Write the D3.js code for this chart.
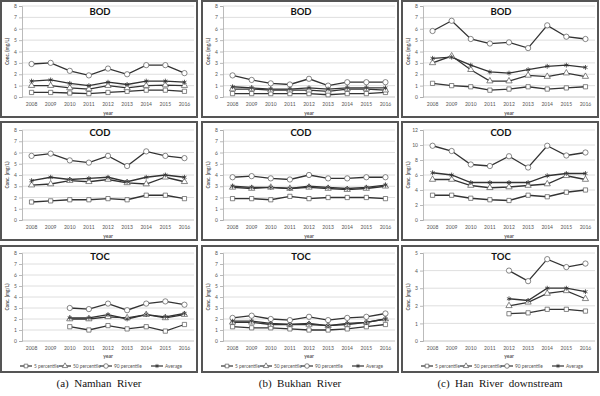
<!DOCTYPE html>
<html lang="en">
<head>
<meta charset="UTF-8">
<script src="https://d3js.org/d3.v7.min.js"></script>
<style>
  body { margin: 0; background: #fff; }
  svg { display: block; }
  .tick text { font-family: Lato, "Liberation Sans", sans-serif; font-size: 5px; fill: #555; }
</style>
</head>
<body>
<div id="chart"></div>
<script>
const years = ["2008", "2009", "2010", "2011", "2012", "2013", "2014", "2015", "2016"];
const seriesNames = ["5 percentile", "50 percentile", "90 percentile", "Average"];
const params = ["BOD", "COD", "TOC"];
const rivers = ["(a)  Namhan  River", "(b)  Bukhan  River", "(c)  Han  River  downstream"];

const ticks8 = [0, 1, 2, 3, 4, 5, 6, 7, 8];
const ticks12 = [0, 2, 4, 6, 8, 10, 12];
const ticks5 = [0, 1, 2, 3, 4, 5];

// each panel: [5 percentile, 50 percentile, 90 percentile, average]
const namhanBOD = [
  [0.4, 0.4, 0.35, 0.3, 0.4, 0.5, 0.6, 0.6, 0.5],
  [1.0, 1.0, 0.8, 0.7, 1.0, 0.8, 1.0, 1.05, 1.0],
  [2.9, 3.0, 2.3, 1.9, 2.5, 2.0, 2.8, 2.8, 2.1],
  [1.4, 1.5, 1.2, 1.0, 1.3, 1.1, 1.4, 1.4, 1.3]
];
const namhanCOD = [
  [1.6, 1.7, 1.8, 1.8, 1.9, 1.8, 2.2, 2.2, 1.9],
  [3.1, 3.2, 3.5, 3.4, 3.6, 3.3, 3.2, 3.8, 3.4],
  [5.7, 5.9, 5.3, 5.1, 5.7, 4.8, 6.1, 5.7, 5.5],
  [3.5, 3.8, 3.6, 3.7, 3.8, 3.4, 3.8, 4.0, 3.8]
];
const namhanTOC = [
  [null, null, 1.3, 1.0, 1.4, 1.1, 1.3, 0.9, 1.5],
  [null, null, 2.0, 2.0, 2.2, 2.1, 2.4, 2.1, 2.4],
  [null, null, 3.0, 2.9, 3.4, 2.8, 3.4, 3.6, 3.3],
  [null, null, 2.1, 2.1, 2.4, 2.0, 2.4, 2.2, 2.5]
];
const bukhanBOD = [
  [0.3, 0.3, 0.3, 0.3, 0.3, 0.2, 0.3, 0.3, 0.4],
  [0.7, 0.7, 0.6, 0.6, 0.6, 0.5, 0.7, 0.7, 0.6],
  [1.9, 1.5, 1.2, 1.1, 1.6, 1.0, 1.3, 1.3, 1.3],
  [0.9, 0.8, 0.7, 0.7, 0.8, 0.7, 0.8, 0.8, 0.8]
];
const bukhanCOD = [
  [1.9, 1.9, 1.8, 2.1, 1.9, 2.0, 2.0, 2.0, 1.9],
  [2.9, 2.8, 2.9, 2.8, 2.9, 2.8, 2.7, 2.8, 3.0],
  [3.8, 3.9, 3.7, 3.6, 4.0, 3.7, 3.7, 3.8, 3.8],
  [3.0, 2.9, 2.9, 2.8, 3.0, 2.9, 2.8, 2.9, 3.1]
];
const bukhanTOC = [
  [1.3, 1.2, 1.2, 1.1, 1.0, 1.0, 1.1, 1.3, 1.5],
  [1.7, 1.7, 1.5, 1.5, 1.5, 1.4, 1.5, 1.7, 2.0],
  [2.1, 2.3, 2.0, 1.9, 2.2, 1.9, 2.1, 2.2, 2.5],
  [1.8, 1.8, 1.6, 1.5, 1.6, 1.4, 1.6, 1.7, 2.0]
];
const hanBOD = [
  [1.2, 1.0, 0.9, 0.6, 0.7, 0.9, 0.7, 0.8, 0.9],
  [3.0, 3.6, 2.4, 1.4, 1.4, 1.9, 1.8, 2.1, 1.8],
  [5.8, 6.7, 5.1, 4.7, 4.8, 4.3, 6.3, 5.3, 5.1],
  [3.4, 3.5, 2.8, 2.2, 2.1, 2.4, 2.7, 2.8, 2.6]
];
const hanCOD = [
  [3.3, 3.3, 2.9, 2.7, 2.6, 3.3, 3.1, 3.7, 4.0],
  [5.4, 5.4, 4.6, 4.3, 4.4, 4.6, 4.8, 5.9, 5.4],
  [9.9, 9.2, 7.4, 7.2, 8.5, 7.0, 9.9, 8.6, 9.0],
  [6.3, 6.0, 5.0, 5.0, 5.0, 5.0, 5.9, 6.2, 6.2]
];
const hanTOC = [
  [null, null, null, null, 1.55, 1.6, 1.8, 1.8, 1.7],
  [null, null, null, null, 2.0, 2.2, 2.7, 2.85, 2.4],
  [null, null, null, null, 4.0, 3.4, 4.65, 4.2, 4.4],
  [null, null, null, null, 2.4, 2.3, 3.0, 3.0, 2.8]
];

// rows = parameter, cols = river
const panelData = [
  [namhanBOD, bukhanBOD, hanBOD],
  [namhanCOD, bukhanCOD, hanCOD],
  [namhanTOC, bukhanTOC, hanTOC]
];
const panelTicks = [
  [ticks8, ticks8, ticks8],
  [ticks8, ticks8, ticks12],
  [ticks8, ticks8, ticks5]
];

const W = 600, H = 396;
const colX = [1, 202, 402];
const colW = 196;
const rowY = [1, 122, 246];
const rowH = [116, 118, 126];
const plotTop = [6, 130, 253];
const plotBot = [97, 220, 341];
const plotL = 21, plotR = 193;
const font = "Lato, 'Liberation Sans', sans-serif";

const symbols = [d3.symbolSquare, d3.symbolTriangle, d3.symbolCircle, d3.symbolAsterisk];
const symSize = [18, 17, 22, 16];

const svg = d3.select("#chart").append("svg")
    .attr("width", W).attr("height", H);

function drawMarker(g, i, x, y, k) {
    const p = g.append("path")
        .attr("transform", `translate(${x},${y})`)
        .attr("d", d3.symbol(symbols[i], symSize[i] * (k || 1))());
    if (i === 3) {
        p.attr("fill", "none").attr("stroke", "#333").attr("stroke-width", 0.8);
    } else {
        p.attr("fill", "#fff").attr("stroke", "#555").attr("stroke-width", 0.7);
    }
}

params.forEach((param, r) => {
    rivers.forEach((river, c) => {
        const data = panelData[r][c];
        const ticks = panelTicks[r][c];
        const g = svg.append("g").attr("transform", `translate(${colX[c]},0)`);

        g.append("rect")
            .attr("x", 0).attr("y", rowY[r])
            .attr("width", colW).attr("height", rowH[r])
            .attr("fill", "#fff").attr("stroke", "#555").attr("stroke-width", 2);

        const x = d3.scaleBand().domain(years).range([plotL, plotR]);
        const cx = d => x(d) + x.bandwidth() / 2;
        const y = d3.scaleLinear().domain([0, d3.max(ticks)]).range([plotBot[r], plotTop[r]]);

        // grid
        g.selectAll(".grid").data(ticks).enter().append("line")
            .attr("x1", plotL).attr("x2", plotR)
            .attr("y1", d => y(d)).attr("y2", d => y(d))
            .attr("stroke", d => d === 0 ? "#b5b5b5" : "#d6d6d6")
            .attr("stroke-width", 0.8);

        const ax = g.append("g")
            .attr("transform", `translate(${plotL},0)`)
            .call(d3.axisLeft(y).tickValues(ticks).tickFormat(d3.format("d")).tickSize(3).tickPadding(2));
        ax.select(".domain").attr("stroke", "#aaa").attr("stroke-width", 0.8);
        ax.selectAll(".tick line").attr("stroke", "#aaa").attr("stroke-width", 0.8);

        g.selectAll(".xl").data(years).enter().append("text")
            .attr("x", d => cx(d)).attr("y", plotBot[r] + 9)
            .attr("text-anchor", "middle")
            .style("font-family", font).style("font-size", "5px").attr("fill", "#555")
            .text(d => d);

        g.append("text")
            .attr("x", (plotL + plotR) / 2).attr("y", plotBot[r] + (r === 2 ? 17 : 18))
            .attr("text-anchor", "middle")
            .style("font-family", font).style("font-size", "5px").style("font-weight", "bold")
            .attr("fill", "#555").text("year");

        g.append("text")
            .attr("transform", `translate(8,${(plotTop[r] + plotBot[r]) / 2}) rotate(-90)`)
            .attr("text-anchor", "middle")
            .style("font-family", font).style("font-size", "4.8px").style("font-weight", "bold")
            .attr("fill", "#555").text("Conc. (mg/L)");

        g.append("text")
            .attr("x", colW / 2 + 1).attr("y", rowY[r] + 14)
            .attr("text-anchor", "middle")
            .style("font-family", font).style("font-size", "9.5px").style("font-weight", "bold")
            .attr("fill", "#111").text(param);

        const line = d3.line()
            .defined(d => d != null)
            .x((d, j) => cx(years[j]))
            .y(d => y(d));

        data.forEach((vals, i) => {
            g.append("path")
                .attr("d", line(vals))
                .attr("fill", "none")
                .attr("stroke", "#333")
                .attr("stroke-width", 1.3);
        });
        data.forEach((vals, i) => {
            vals.forEach((v, j) => {
                if (v != null) drawMarker(g, i, cx(years[j]), y(v));
            });
        });

        if (r === 2) {
            const ly = plotBot[r] + 25;
            const lx = [19, 58, 99, 150];
            seriesNames.forEach((name, i) => {
                g.append("line")
                    .attr("x1", lx[i]).attr("x2", lx[i] + 12)
                    .attr("y1", ly).attr("y2", ly)
                    .attr("stroke", "#333").attr("stroke-width", 1.2);
                drawMarker(g, i, lx[i] + 6, ly, 0.75);
                g.append("text")
                    .attr("x", lx[i] + 14).attr("y", ly + 1.7)
                    .style("font-family", font).style("font-size", "4.8px")
                    .attr("fill", "#555").text(name);
            });

            g.append("text")
                .attr("x", colW / 2).attr("y", 387)
                .attr("text-anchor", "middle")
                .style("font-family", "'Liberation Serif', 'Times New Roman', serif")
                .style("font-size", "11px")
                .style("white-space", "pre")
                .attr("fill", "#111").text(river);
        }
    });
});
</script>
</body>
</html>
